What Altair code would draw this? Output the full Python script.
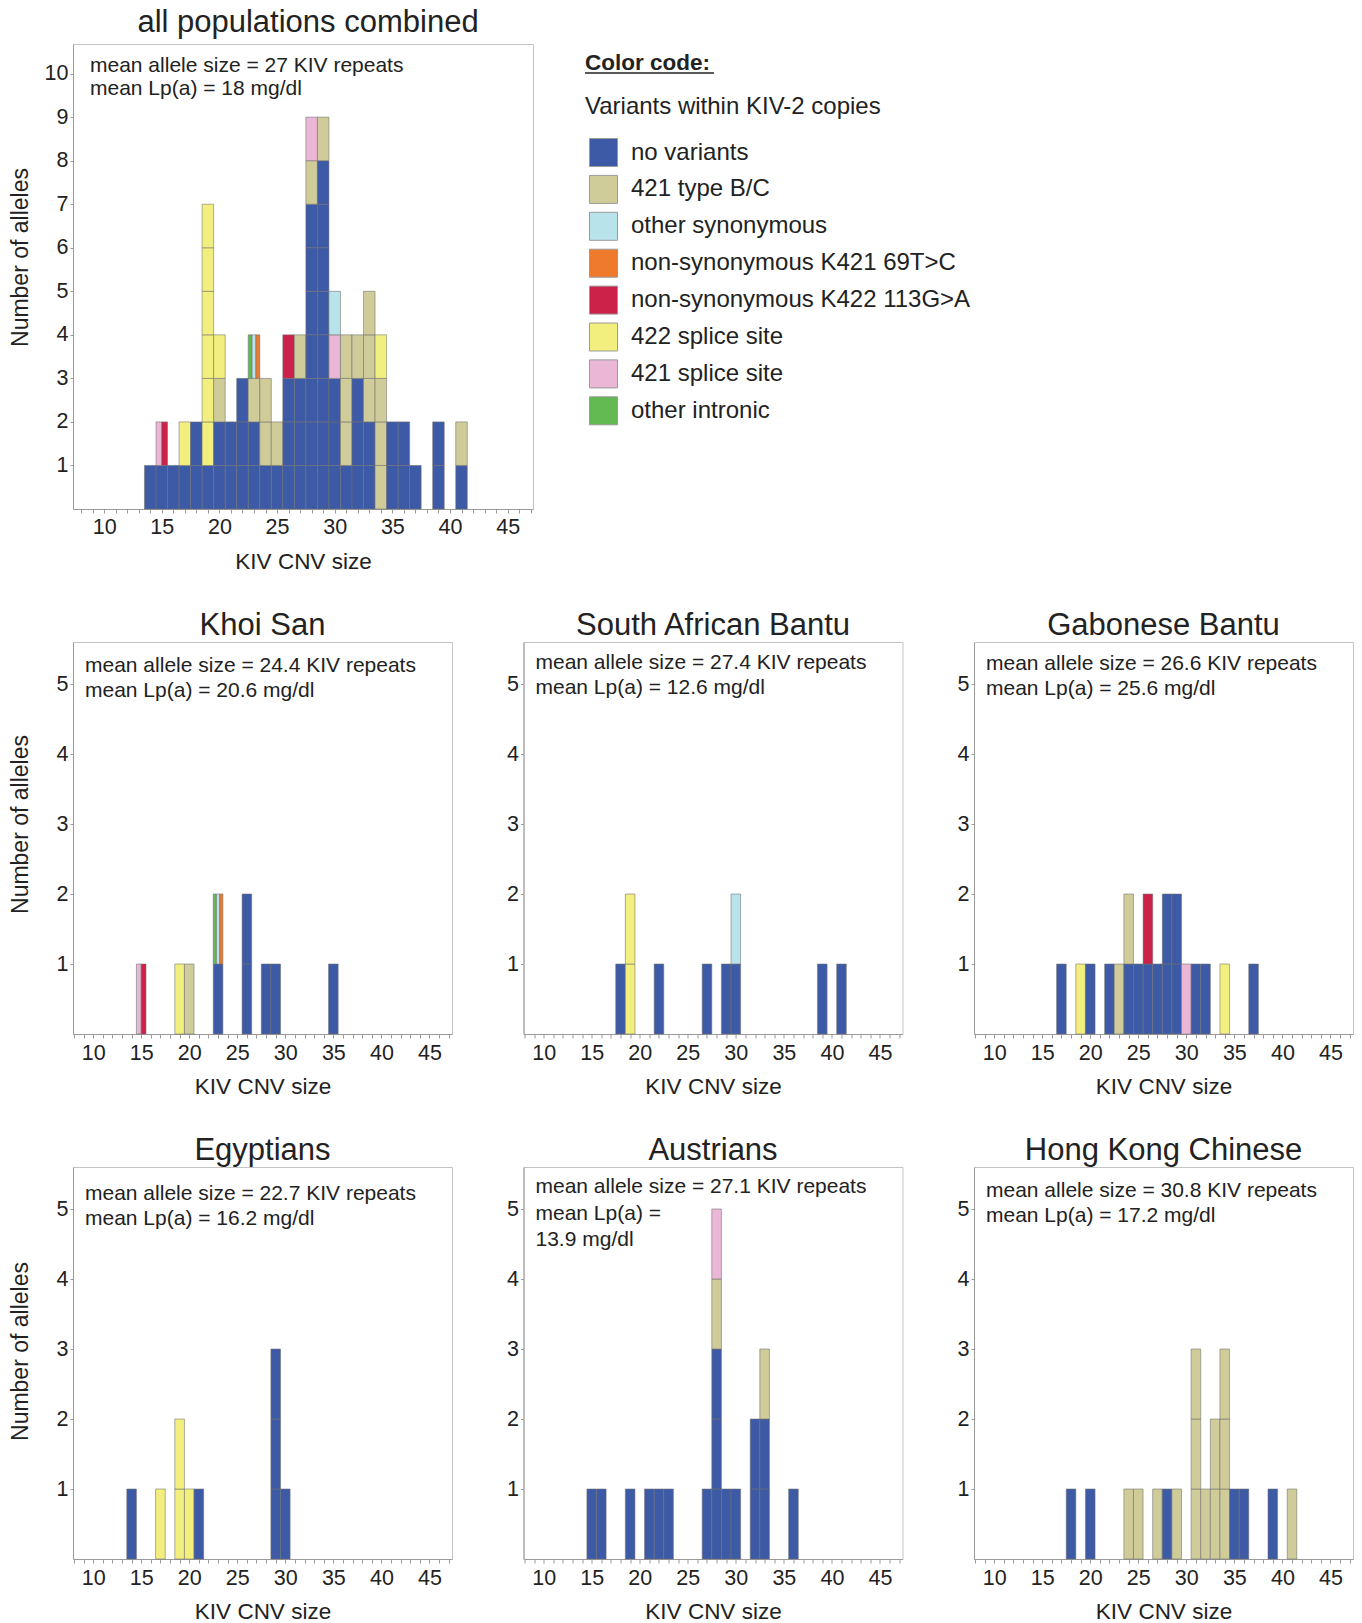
import altair as alt
import pandas as pd

FONT = "Liberation Sans"
TXT = "#222222"

CATEGORIES = ["no variants", "421 type B/C", "other synonymous", "non-synonymous K421 69T>C",
              "non-synonymous K422 113G>A", "422 splice site", "421 splice site", "other intronic"]
CODES = ["N", "T", "S", "O", "R", "Y", "P", "G"]
COLORS = ["#3d5aa6", "#cfcc99", "#b9e3ea", "#f07a2c", "#cc2249", "#f3ef7e", "#ebb7d7", "#63ba52"]

# stacks: cells bottom->top separated by spaces; a multi-letter cell = one allele carrying several variants
ALL_SIZES = [14, 15, 16, 17, 18, 19, 20, 21, 22, 23, 24, 25, 26, 27, 28, 29, 30, 31, 32, 33, 34, 35, 36, 37, 39, 41]
ALL_STACKS = ["N", "N PR", "N", "N Y", "N N", "N Y Y Y Y Y Y", "N N T Y", "N N", "N N N", "N N T GSO",
              "N T T", "N T", "N N N R", "N N N T", "N N N N N N N T P", "N N N N N N N N T", "N N N P S",
              "N T T T", "N N N T", "N N T T T", "T T T Y", "N N", "N N", "N", "N N", "N T"]

KS_SIZES = [15, 19, 20, 23, 26, 28, 29, 35]
KS_STACKS = ["PR", "Y", "T", "N GSO", "N N", "N", "N", "N"]

SAB_SIZES = [18, 19, 22, 27, 29, 30, 39, 41]
SAB_STACKS = ["N", "Y Y", "N", "N", "N", "N S", "N", "N"]

GB_SIZES = [17, 19, 20, 22, 23, 24, 25, 26, 27, 28, 29, 30, 31, 32, 34, 37]
GB_STACKS = ["N", "Y", "N", "N", "T", "N T", "N", "N R", "N", "N N", "N N", "P", "N", "N", "Y", "N"]

EG_SIZES = [14, 17, 19, 20, 21, 29, 30]
EG_STACKS = ["N", "Y", "Y Y", "Y", "N", "N N N", "N"]

AU_SIZES = [15, 16, 19, 21, 22, 23, 27, 28, 29, 30, 32, 33, 36]
AU_STACKS = ["N", "N", "N", "N", "N", "N", "N", "N N N T P", "N", "N", "N N", "N N T", "N"]

HK_SIZES = [18, 20, 24, 25, 27, 28, 29, 31, 32, 33, 34, 35, 36, 39, 41]
HK_STACKS = ["N", "N", "T", "T", "T", "N", "T", "T T T", "T", "T T", "T T T", "N", "N", "N", "T"]

ANNOT_ALL = ["mean allele size = 27 KIV repeats", "mean Lp(a) = 18 mg/dl"]
ANNOT_KS = ["mean allele size = 24.4 KIV repeats", "mean Lp(a) = 20.6 mg/dl"]
ANNOT_SAB = ["mean allele size = 27.4 KIV repeats", "mean Lp(a) = 12.6 mg/dl"]
ANNOT_GB = ["mean allele size = 26.6 KIV repeats", "mean Lp(a) = 25.6 mg/dl"]
ANNOT_EG = ["mean allele size = 22.7 KIV repeats", "mean Lp(a) = 16.2 mg/dl"]
ANNOT_AU = ["mean allele size = 27.1 KIV repeats", "mean Lp(a) =", "13.9 mg/dl"]
ANNOT_HK = ["mean allele size = 30.8 KIV repeats", "mean Lp(a) = 17.2 mg/dl"]


def cells(sizes, stacks):
    rows = []
    for s, st in zip(sizes, stacks):
        for lvl, cell in enumerate(st.split()):
            n = len(cell)
            for j, ch in enumerate(cell):
                rows.append({
                    "size": s,
                    "x": s - 0.5 + j / n,
                    "x2": s - 0.5 + (j + 1) / n,
                    "y": lvl,
                    "y2": lvl + 1,
                    "cat": CATEGORIES[CODES.index(ch)],
                })
    return pd.DataFrame(rows)


def panel(sizes, stacks, title, lines, w, h, xdom, ymax, yvals, ytitle, tx, ty, lh,
          title_offset, xlab_pad, xtitle_pad, ytitle_y, legend=None, extra=None, title_dx=0):
    df = cells(sizes, stacks)
    xaxis = alt.Axis(values=list(range(8, 48)),
                     labelExpr="datum.value % 5 === 0 ? datum.label : ''",
                     tickSize=4, tickColor="#9a9a9a", domainColor="#9a9a9a",
                     labelFontSize=21.5, labelFont=FONT, labelColor=TXT, labelPadding=xlab_pad,
                     labelOverlap=False, title="KIV CNV size", titleFontSize=22.5, titleFont=FONT,
                     titleFontWeight="normal", titleColor=TXT, titlePadding=xtitle_pad, grid=False)
    yax = dict(values=yvals, tickSize=3, tickColor="#9a9a9a", domainColor="#9a9a9a",
               labelFontSize=21.5, labelFont=FONT, labelColor=TXT, labelPadding=2, grid=False)
    if ytitle:
        yaxis = alt.Axis(title="Number of alleles", titleFontSize=23, titleFont=FONT,
                         titleFontWeight="normal", titleColor=TXT, titleX=-46, titleY=ytitle_y,
                         titleAngle=270, titleBaseline="alphabetic", titleAlign="center", **yax)
    else:
        yaxis = alt.Axis(title=None, **yax)
    bars = alt.Chart(df).mark_rect(stroke="#6f6f6f", strokeWidth=0.8, strokeOpacity=0.7).encode(
        x=alt.X("x:Q", scale=alt.Scale(domain=xdom, nice=False, zero=False), axis=xaxis),
        x2="x2:Q",
        y=alt.Y("y:Q", scale=alt.Scale(domain=[0, ymax], nice=False, zero=False), axis=yaxis),
        y2="y2:Q",
        color=alt.Color("cat:N", scale=alt.Scale(domain=CATEGORIES, range=COLORS), legend=legend),
    )
    txt = alt.Chart(pd.DataFrame({"k": [0]})).mark_text(
        text=lines, align="left", baseline="top", font=FONT, fontSize=21, lineHeight=lh, color=TXT
    ).encode(x=alt.value(tx), y=alt.value(ty))
    layers = [bars, txt] + (extra or [])
    return alt.layer(*layers).properties(
        width=w, height=h,
        title=alt.TitleParams(title, fontSize=31, font=FONT, fontWeight="normal", color=TXT,
                              offset=title_offset, anchor="middle", dx=title_dx),
    )


legend = alt.Legend(orient="none", legendX=516, legendY=94, title=None, symbolType="square",
                    symbolSize=784, symbolStrokeColor="#9a9a9a", symbolStrokeWidth=1,
                    symbolOpacity=1, labelFontSize=24, labelFont=FONT, labelColor=TXT,
                    labelOffset=13, rowPadding=3.9, labelLimit=600)

one = pd.DataFrame({"k": [0]})
legend_head = alt.Chart(one).mark_text(
    text="Color code:", align="left", baseline="alphabetic", font=FONT, fontSize=22.5,
    fontWeight="bold", color=TXT).encode(x=alt.value(512), y=alt.value(26))
legend_rule = alt.Chart(one).mark_rule(color=TXT, strokeWidth=1.5).encode(
    x=alt.value(512), x2=alt.value(641), y=alt.value(29))
legend_sub = alt.Chart(one).mark_text(
    text="Variants within KIV-2 copies", align="left", baseline="alphabetic", font=FONT,
    fontSize=24, color=TXT).encode(x=alt.value(512), y=alt.value(70))

top = panel(ALL_SIZES, ALL_STACKS, "all populations combined", ANNOT_ALL, 460, 465,
            [7.3, 47.2], 10.68, list(range(1, 11)), True, 17, 11, 23, 5, 3, 13, 213,
            legend=legend, extra=[legend_head, legend_rule, legend_sub], title_dx=5)

W, H, XD, YM = 379, 392, [7.9, 47.35], 5.6
Y5 = [1, 2, 3, 4, 5]
ks = panel(KS_SIZES, KS_STACKS, "Khoi San", ANNOT_KS, W, H, XD, YM, Y5, True, 12, 13, 25, 0, 4, 12, 182)
sab = panel(SAB_SIZES, SAB_STACKS, "South African Bantu", ANNOT_SAB, W, H, XD, YM, Y5, False, 12, 10, 25, 0, 4, 12, 182)
gb = panel(GB_SIZES, GB_STACKS, "Gabonese Bantu", ANNOT_GB, W, H, XD, YM, Y5, False, 12, 11, 25, 0, 4, 12, 182)
eg = panel(EG_SIZES, EG_STACKS, "Egyptians", ANNOT_EG, W, H, XD, YM, Y5, True, 12, 16, 25, 0, 4, 12, 184)
au = panel(AU_SIZES, AU_STACKS, "Austrians", ANNOT_AU, W, H, XD, YM, Y5, False, 12, 9, 26.5, 0, 4, 12, 184)
hk = panel(HK_SIZES, HK_STACKS, "Hong Kong Chinese", ANNOT_HK, W, H, XD, YM, Y5, False, 12, 13, 25, 0, 4, 12, 184)

row2 = alt.hconcat(ks, sab, gb, spacing=52.5)
row3 = alt.hconcat(eg, au, hk, spacing=52.5)
lower = alt.vconcat(row2, row3, spacing=35)

chart = alt.vconcat(top, lower, spacing=35).resolve_scale(color="independent").properties(
    padding={"left": 0, "top": -2, "right": 0, "bottom": 0}
).configure_view(stroke="#c4c4c4", strokeWidth=1)

chart.save("out.html", embed_options={"renderer": "svg", "actions": False})
